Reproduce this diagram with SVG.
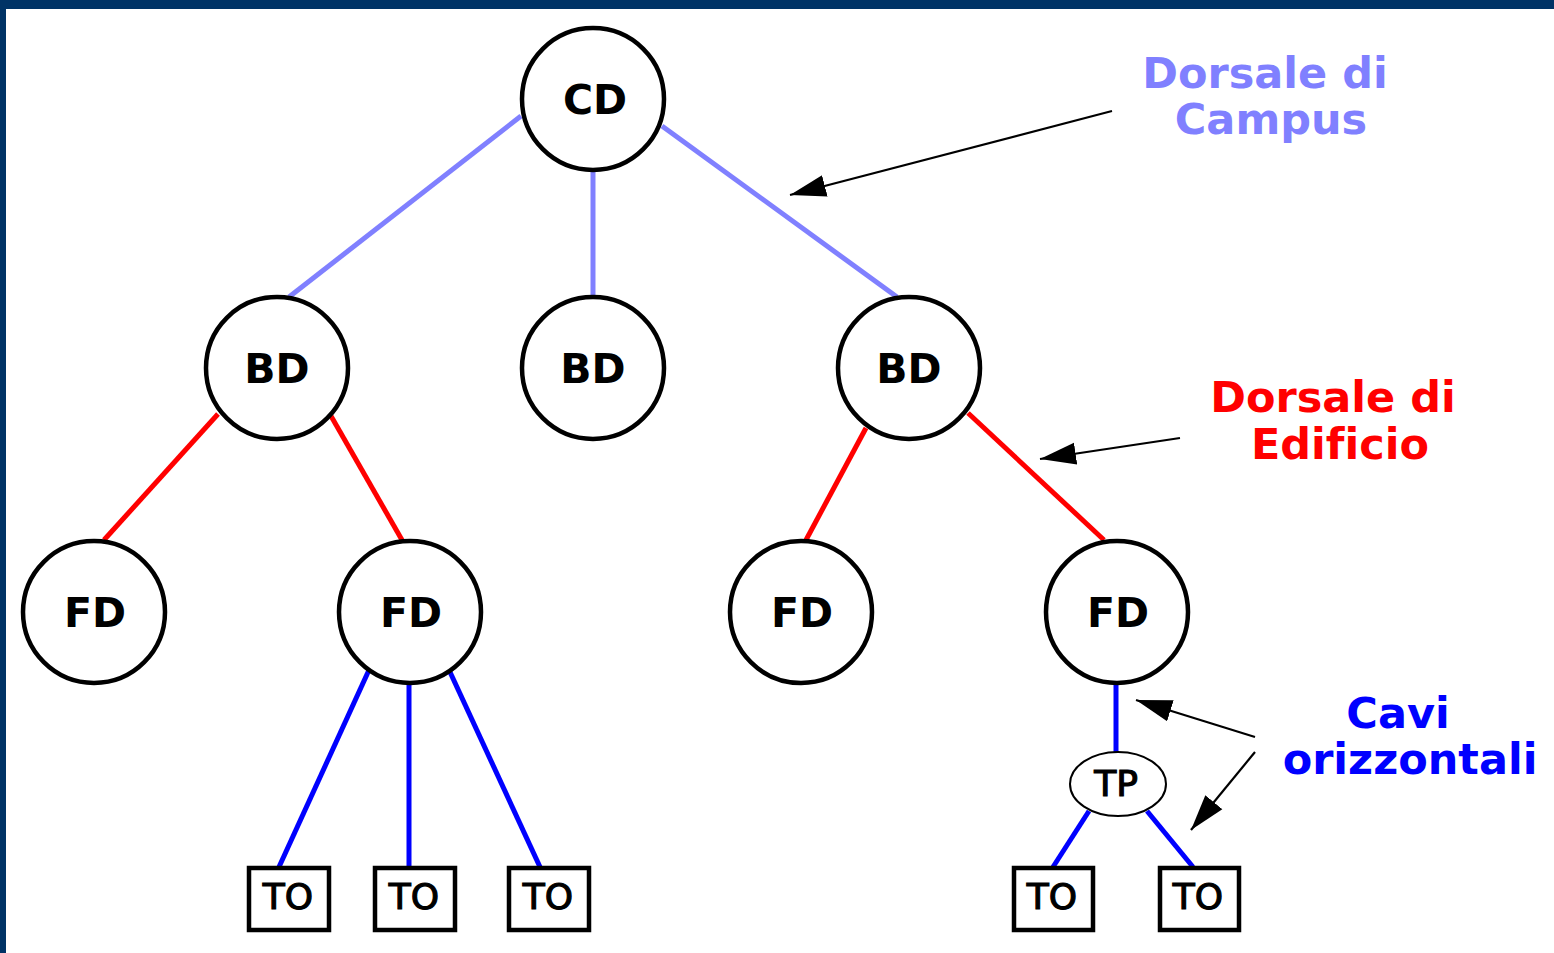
<svg xmlns="http://www.w3.org/2000/svg" width="1554" height="953" viewBox="0 0 1554 953">
  <style>
    .node { fill: #ffffff; stroke: #000000; stroke-width: 4.5; }
    .tp { fill: #ffffff; stroke: #000000; stroke-width: 2; }
    .box { fill: #ffffff; stroke: #000000; stroke-width: 4.5; }
    .lbl { font-family: "DejaVu Sans", sans-serif; font-weight: bold; font-size: 41px; text-anchor: middle; fill: #000000; }
    .small { font-family: "DejaVu Sans", sans-serif; font-size: 36px; text-anchor: middle; fill: #000000; stroke: #000000; stroke-width: 1.2; }
    .note { font-family: "DejaVu Sans", sans-serif; font-weight: bold; font-size: 43px; text-anchor: middle; font-variant-ligatures: none; }
    .campus { stroke: #8080ff; stroke-width: 5; fill: none; }
    .bldg { stroke: #ff0000; stroke-width: 5; fill: none; }
    .horiz { stroke: #0000ff; stroke-width: 5; fill: none; }
    .ptr { stroke: #000000; stroke-width: 2.2; fill: none; marker-end: url(#head); }
  </style>
  <defs>
    <marker id="head" markerUnits="userSpaceOnUse" markerWidth="38" markerHeight="26" refX="36" refY="13" orient="auto">
      <path d="M0,2 L36,13 L0,24 Z" fill="#000000"/>
    </marker>
  </defs>

  <!-- background and frame -->
  <rect x="0" y="0" width="1554" height="953" fill="#ffffff"/>
  <rect x="0" y="0" width="1554" height="9" fill="#003366"/>
  <rect x="0" y="0" width="6" height="953" fill="#003366"/>

  <!-- connectors -->
  <g id="connectors">
    <line class="campus" x1="521" y1="116" x2="289" y2="297"/>
    <line class="campus" x1="593" y1="170" x2="593" y2="297"/>
    <line class="campus" x1="662" y1="126" x2="897" y2="297"/>
    <line class="bldg" x1="218" y1="414" x2="104" y2="540"/>
    <line class="bldg" x1="331" y1="416" x2="402" y2="540"/>
    <line class="bldg" x1="866" y1="428" x2="806" y2="540"/>
    <line class="bldg" x1="968" y1="413" x2="1104" y2="540"/>
    <line class="horiz" x1="369" y1="670" x2="279" y2="867"/>
    <line class="horiz" x1="409" y1="684" x2="409" y2="867"/>
    <line class="horiz" x1="450" y1="672" x2="540" y2="867"/>
    <line class="horiz" x1="1116" y1="684" x2="1116" y2="752"/>
    <line class="horiz" x1="1089" y1="811" x2="1053" y2="867"/>
    <line class="horiz" x1="1147" y1="811" x2="1193" y2="867"/>
    <!-- label pointers -->
    <line class="ptr" x1="1112" y1="111" x2="790" y2="195"/>
    <line class="ptr" x1="1180" y1="438" x2="1040" y2="459"/>
    <line class="ptr" x1="1255" y1="737" x2="1136" y2="700"/>
    <line class="ptr" x1="1255" y1="752" x2="1191" y2="830"/>
  </g>

  <!-- distributors -->
  <g id="cd"><circle class="node" cx="593" cy="99" r="71"/><text class="lbl" x="595" y="114">CD</text></g>
  <g id="bd1"><circle class="node" cx="277" cy="368" r="71"/><text class="lbl" x="277" y="383">BD</text></g>
  <g id="bd2"><circle class="node" cx="593" cy="368" r="71"/><text class="lbl" x="593" y="383">BD</text></g>
  <g id="bd3"><circle class="node" cx="909" cy="368" r="71"/><text class="lbl" x="909" y="383">BD</text></g>
  <g id="fd1"><circle class="node" cx="94" cy="612" r="71"/><text class="lbl" x="95" y="627">FD</text></g>
  <g id="fd2"><circle class="node" cx="410" cy="612" r="71"/><text class="lbl" x="411" y="627">FD</text></g>
  <g id="fd3"><circle class="node" cx="801" cy="612" r="71"/><text class="lbl" x="802" y="627">FD</text></g>
  <g id="fd4"><circle class="node" cx="1117" cy="612" r="71"/><text class="lbl" x="1118" y="627">FD</text></g>
  <g id="tp"><ellipse class="tp" cx="1118" cy="784" rx="48" ry="32"/><text class="small" x="1116" y="796">TP</text></g>

  <!-- telecommunication outlets -->
  <g id="to1"><rect class="box" x="249" y="868" width="80" height="62"/><text class="small" x="288" y="909">TO</text></g>
  <g id="to2"><rect class="box" x="375" y="868" width="80" height="62"/><text class="small" x="414" y="909">TO</text></g>
  <g id="to3"><rect class="box" x="509" y="868" width="80" height="62"/><text class="small" x="548" y="909">TO</text></g>
  <g id="to4"><rect class="box" x="1014" y="868" width="79" height="62"/><text class="small" x="1052" y="909">TO</text></g>
  <g id="to5"><rect class="box" x="1160" y="868" width="79" height="62"/><text class="small" x="1198" y="909">TO</text></g>

  <!-- legend labels -->
  <g id="label-campus" class="note" fill="#8080ff">
    <text x="1265" y="88">Dorsale di</text>
    <text x="1271" y="134">Campus</text>
  </g>
  <g id="label-building" class="note" fill="#ff0000">
    <text x="1333" y="412">Dorsale di</text>
    <text x="1340" y="459">Edificio</text>
  </g>
  <g id="label-horizontal" class="note" fill="#0000ff">
    <text x="1398" y="728">Cavi</text>
    <text x="1410" y="774">orizzontali</text>
  </g>
</svg>
